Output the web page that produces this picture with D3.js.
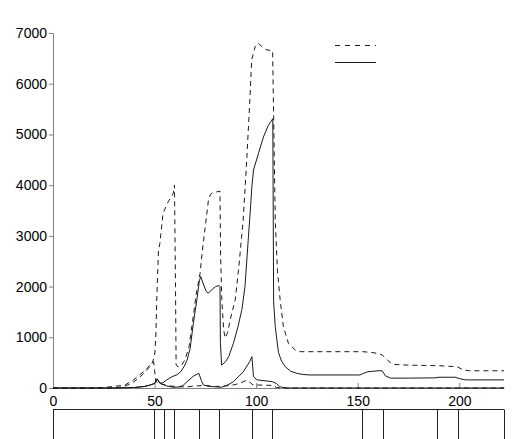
<!DOCTYPE html>
<html>
<head>
<meta charset="utf-8">
<script src="https://cdn.jsdelivr.net/npm/d3@7"></script>
<style>
  html, body { margin: 0; padding: 0; background: #fff; }
  svg { display: block; font-family: "Liberation Sans", Arial, Helvetica, sans-serif; }
  .axis text { font-size: 14px; fill: #000; }
  .axis path, .axis line { stroke: #808080; }
</style>
</head>
<body>
<div id="chart"></div>
<script>
// series: [x, value]
const dashedBig = [[0,0],[25,0],[30,5],[34,20],[38.8,90],[42.9,220],[46.2,355],[48.5,460],[50,620],[50.6,1000],
  [51.2,1900],[51.9,2700],[52.6,2850],[54.2,3450],[56.7,3670],[59.2,3840],[59.8,4000],[60.3,2000],[60.6,450],
  [61.5,420],[63,430],[65,560],[67,820],[69,1400],[70.5,1850],[72.4,2260],[73.5,2700],[75,3200],[76.5,3700],
  [77.5,3820],[79,3860],[81,3870],[82.2,3880],[82.5,2600],[83.1,1740],[84,1150],[84.7,985],[86,1100],[87.2,1340],
  [89.7,1740],[91.5,2400],[93.6,3310],[95.2,4370],[96.9,5680],[97.8,6470],[99.5,6730],[101.1,6800],[102.8,6730],
  [104.9,6670],[108.1,6650],[109.4,3310],[110.5,2300],[111.8,1740],[113.4,1210],[115.9,880],[119.2,750],[122,716],
  [152.6,716],[157,700],[160,680],[162.1,650],[164.6,550],[167.1,467],[175,450],[190,440],[198.9,420],[202,355],
  [205,340],[222,340]];

const solidBig = [[0,0],[30,0],[40,10],[45,30],[48,60],[50,90],[51.3,180],[52.5,100],[54,100],[56,160],[57.6,200],
  [59,230],[61,260],[63,330],[64.5,420],[66,550],[67.5,780],[69,1250],[70.8,1740],[72,2100],[72.7,2200],[74,2050],
  [75.5,1900],[76.5,1870],[78.5,1950],[80,2000],[81.8,2020],[82.2,2000],[82.4,900],[83,450],[85,520],[86.5,620],
  [88.8,880],[91,1200],[93,1550],[94.5,2000],[96.2,2980],[97.3,3600],[97.9,3970],[98.7,4300],[101.1,4620],
  [103.6,4950],[106,5180],[108.2,5310],[108.6,1700],[109.4,1210],[110.2,945],[111,700],[112.5,530],[114.3,420],
  [117,330],[120,290],[122.5,270],[126,257],[151,257],[153,290],[155,320],[160,340],[162,340],[163.7,237],
  [166.2,195],[175,195],[188,200],[190,212],[198,212],[200,185],[203,160],[222,160]];

const dashedSmall = [[0,0],[20,0],[25,10],[30,30],[35.5,60],[39.6,160],[44.5,320],[47.8,450],[49.5,520],[50,350],
  [50.6,130],[53,80],[56,50],[60,30],[65,20],[70,40],[75,50],[80,30],[85,40],[90,70],[93,110],[95,150],[96.5,130],
  [98,70],[100,60],[105,55],[108,50],[110,10],[113,0],[222,0]];

const solidSmall = [[0,0],[30,0],[40,10],[45,30],[48,60],[50,90],[51.3,180],[52.5,100],[56,40],[59,15],[62,20],
  [64,50],[66,125],[69,230],[71.8,290],[73,150],[74,60],[77,30],[83,15],[86,60],[88.8,125],[93.7,320],[96.8,520],
  [97.9,620],[98.7,220],[100.5,160],[108,125],[110,90],[111.5,25],[115,0],[222,0]];

const xTicks = [0, 50, 100, 150, 200];
const yTicks = [0, 1000, 2000, 3000, 4000, 5000, 6000, 7000];
const eventMarks = [49.9, 54.8, 59.8, 71.9, 81.9, 98.2, 108, 152, 162.4, 189, 199.4];

const width = 529, height = 439;
const margin = { left: 53, top: 33, right: 25 };
const plotBottom = 388;

const svg = d3.select("#chart").append("svg")
  .attr("width", width)
  .attr("height", height);

const x = d3.scaleLinear().domain([0, 222]).range([margin.left, width - margin.right]);
const y = d3.scaleLinear().domain([0, 7000]).range([plotBottom, margin.top]);

// axes
svg.append("g")
  .attr("class", "axis")
  .attr("transform", `translate(0,${plotBottom})`)
  .call(d3.axisBottom(x).tickValues(xTicks).tickSizeInner(-5).tickSizeOuter(0).tickPadding(8))
  .call(g => g.selectAll("text").attr("dy", "0.71em"));

svg.append("g")
  .attr("class", "axis")
  .attr("transform", `translate(${margin.left},0)`)
  .call(d3.axisLeft(y).tickValues(yTicks).tickFormat(d3.format("d"))
    .tickSizeInner(4).tickSizeOuter(0).tickPadding(2));

// curves
const line = d3.line().x(d => x(d[0])).y(d => y(d[1]));
const series = [
  { data: dashedSmall, dash: "5,4" },
  { data: solidSmall, dash: null },
  { data: solidBig, dash: null },
  { data: dashedBig, dash: "5,4" }
];
svg.append("g").selectAll("path")
  .data(series)
  .join("path")
  .attr("d", d => line(d.data))
  .attr("fill", "none")
  .attr("stroke", "#1a1a1a")
  .attr("stroke-width", 1)
  .attr("stroke-dasharray", d => d.dash);

// legend (no labels in the original)
const legend = svg.append("g");
[{ dash: "5,5", yy: 45.5 }, { dash: null, yy: 62.5 }].forEach(l => {
  legend.append("line")
    .attr("x1", 335).attr("x2", 376)
    .attr("y1", l.yy).attr("y2", l.yy)
    .attr("stroke", "#1a1a1a")
    .attr("stroke-dasharray", l.dash);
});

// event strip under the axis
const stripTop = 409.5;
const strip = svg.append("g").attr("stroke", "#222").attr("stroke-width", 1);
strip.append("line")
  .attr("x1", x(0)).attr("x2", x(222))
  .attr("y1", stripTop).attr("y2", stripTop);
strip.selectAll("line.mark")
  .data([0].concat(eventMarks, [222]))
  .join("line")
  .attr("class", "mark")
  .attr("x1", d => Math.round(x(d)) + 0.5)
  .attr("x2", d => Math.round(x(d)) + 0.5)
  .attr("y1", stripTop).attr("y2", height + 5);
</script>
</body>
</html>
